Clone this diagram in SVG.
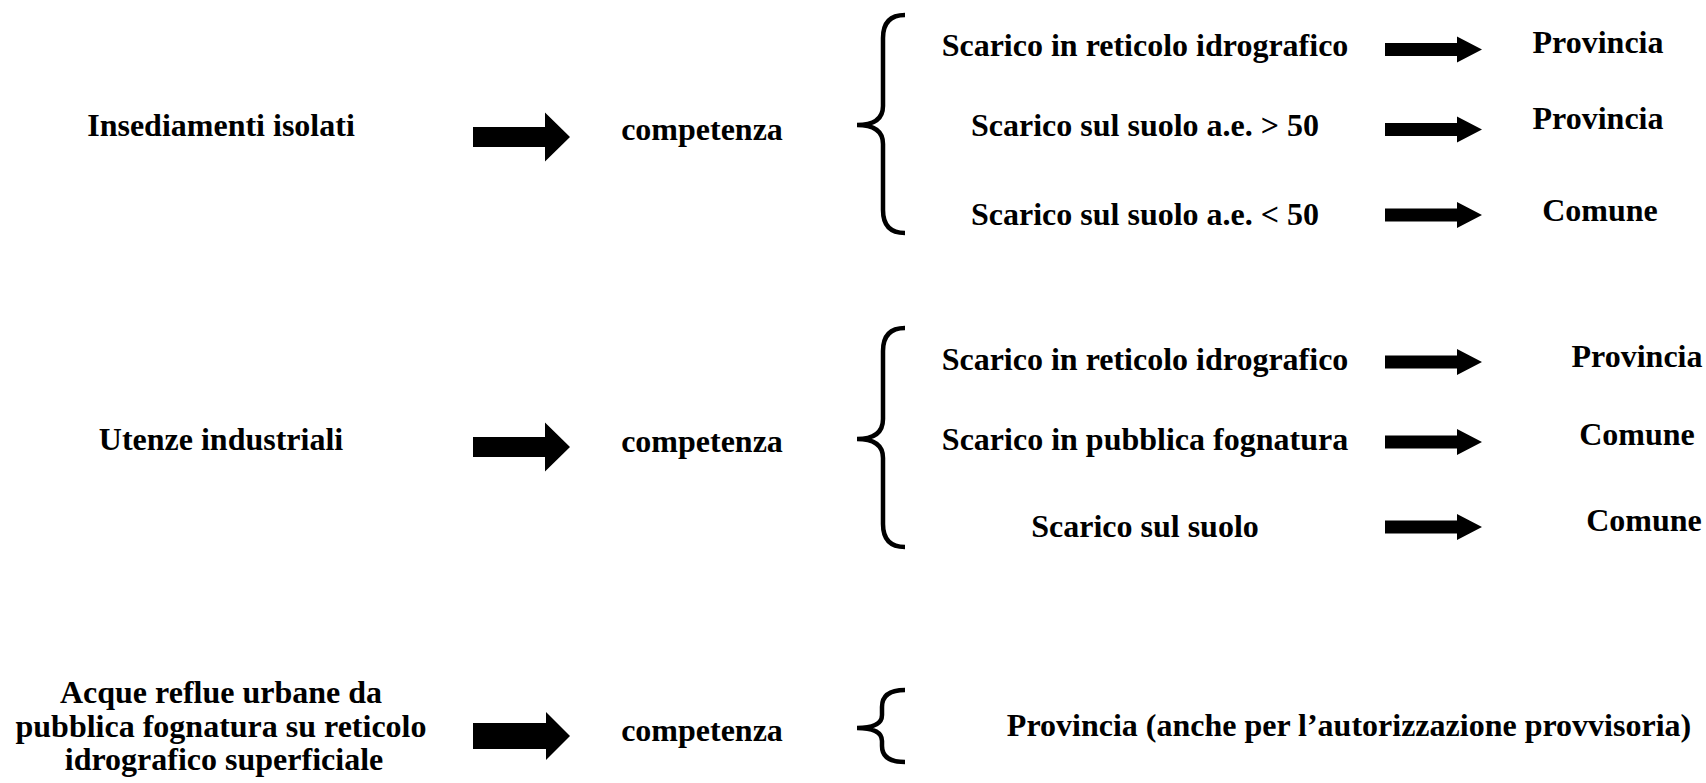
<svg xmlns="http://www.w3.org/2000/svg" xmlns:xlink="http://www.w3.org/1999/xlink" width="1706" height="783" viewBox="0 0 1706 783">
<style>
text{font-family:"Liberation Serif","Times New Roman",serif;font-weight:bold;font-size:32px;fill:#000;text-anchor:middle}
.brace{fill:none;stroke:#000;stroke-width:4.5;stroke-linecap:butt}
.arrow{fill:#000}
</style>
<defs>
<path id="bigArrow" class="arrow" d="M0,-10 H72 V-24.5 L97,0 L72,24.5 V10 H0 Z"/>
<path id="bigArrow3" class="arrow" d="M0,-13 H73 V-24 L97,0 L73,24 V13 H0 Z"/>
<path id="smallArrow" class="arrow" d="M0,-6.5 H72 V-13 L97,0 L72,13 V6.5 H0 Z"/>
</defs>
<rect width="1706" height="783" fill="#fff"/>
<g id="connectors">
<use xlink:href="#bigArrow" transform="translate(473,137)"/>
<use xlink:href="#bigArrow" transform="translate(473,447)"/>
<use xlink:href="#bigArrow3" transform="translate(473,736)"/>
<path class="brace" d="M905,15 Q883,15 883,38 L883,106 Q883,125 857,125 Q883,125 883,144 L883,210 Q883,233 905,233"/>
<path class="brace" d="M905,328 Q883,328 883,351 L883,419 Q883,439 857,439 Q883,439 883,458 L883,524 Q883,547 905,547"/>
<path class="brace" d="M905,690 Q882,690 882,707 L882,715 Q882,728 857,728 Q882,728 882,741 L882,746 Q882,762 905,762"/>
<use xlink:href="#smallArrow" transform="translate(1385,49.5)"/>
<use xlink:href="#smallArrow" transform="translate(1385,129.5)"/>
<use xlink:href="#smallArrow" transform="translate(1385,215)"/>
<use xlink:href="#smallArrow" transform="translate(1385,362)"/>
<use xlink:href="#smallArrow" transform="translate(1385,442)"/>
<use xlink:href="#smallArrow" transform="translate(1385,527)"/>
</g>
<g id="insediamenti"><text x="221" y="136">Insediamenti isolati</text></g>
<g id="competenza1"><text x="702" y="140">competenza</text></g>
<g id="r1a"><text x="1145" y="56">Scarico in reticolo idrografico</text></g>
<g id="r1b"><text x="1145" y="136">Scarico sul suolo a.e. &gt; 50</text></g>
<g id="r1c"><text x="1145" y="225">Scarico sul suolo a.e. &lt; 50</text></g>
<g id="r1a-out"><text x="1598" y="53">Provincia</text></g>
<g id="r1b-out"><text x="1598" y="129">Provincia</text></g>
<g id="r1c-out"><text x="1600" y="221">Comune</text></g>
<g id="utenze"><text x="221" y="450">Utenze industriali</text></g>
<g id="competenza2"><text x="702" y="452">competenza</text></g>
<g id="r2a"><text x="1145" y="370">Scarico in reticolo idrografico</text></g>
<g id="r2b"><text x="1145" y="450">Scarico in pubblica fognatura</text></g>
<g id="r2c"><text x="1145" y="537">Scarico sul suolo</text></g>
<g id="r2a-out"><text x="1637" y="367">Provincia</text></g>
<g id="r2b-out"><text x="1637" y="445">Comune</text></g>
<g id="r2c-out"><text x="1644" y="531">Comune</text></g>
<g id="acque"><text x="221" y="703">Acque reflue urbane da</text><text x="221" y="737">pubblica fognatura su reticolo</text><text x="224" y="770">idrografico superficiale</text></g>
<g id="competenza3"><text x="702" y="741">competenza</text></g>
<g id="r3-out"><text x="1349" y="736">Provincia (anche per l’autorizzazione provvisoria)</text></g>
</svg>
